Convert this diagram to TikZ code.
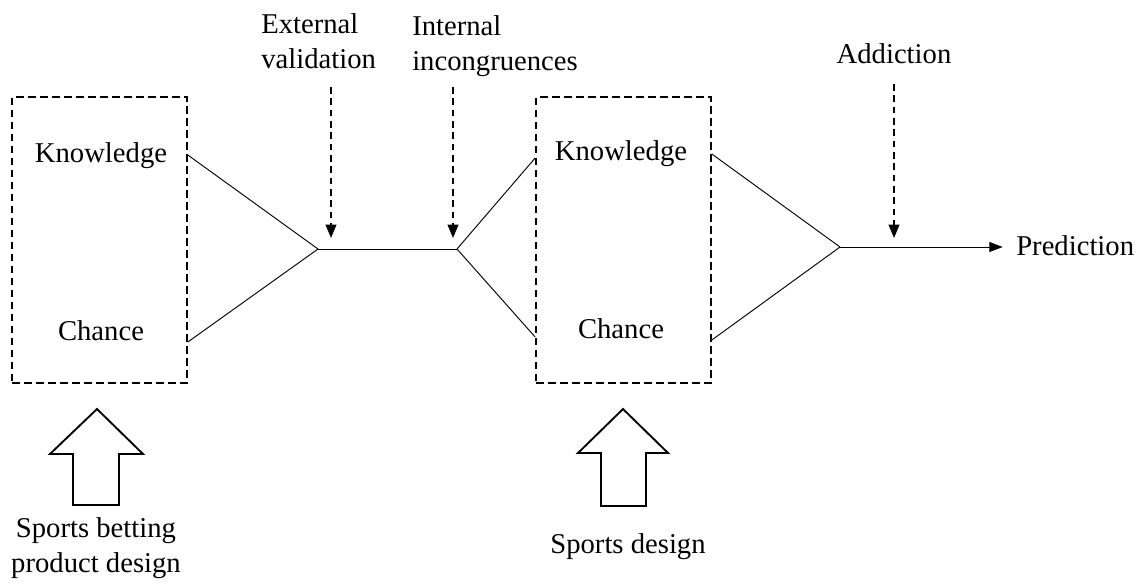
\documentclass[tikz,border=0pt]{standalone}
\usepackage{fontspec}
\setmainfont{Liberation Serif}
\usetikzlibrary{arrows.meta}

\begin{document}
\begin{tikzpicture}[x=0.75pt,y=-0.75pt,
	lbl/.style={font=\fontsize{21.5}{26}\selectfont, inner sep=0pt},
	dbox/.style={draw, dashed, line width=1.5pt, dash pattern=on 5.5pt off 3.5pt, minimum width=131pt, minimum height=214.5pt, inner sep=0pt},
	link/.style={line width=0.7pt},
	dasharrow/.style={line width=1.3pt, dash pattern=on 5pt off 3.5pt, -{Triangle[length=10pt,width=8pt]}},
	blockarrow/.style={line width=1.4pt}]
	\useasboundingbox (0,0) rectangle (1145,583);

	% first box
	\node[dbox] (box1) at (99.5,240) {};
	\node[lbl, anchor=base] (know1) at (101,162) {Knowledge};
	\node[lbl, anchor=base] (chance1) at (101,340) {Chance};

	% second box
	\node[dbox] (box2) at (623.5,240) {};
	\node[lbl, anchor=base] (know2) at (621,160) {Knowledge};
	\node[lbl, anchor=base] (chance2) at (621,338) {Chance};

	% junctions
	\coordinate (j1) at (318,249);
	\coordinate (j2) at (457,249);
	\coordinate (j3) at (840,247);

	\draw[link] (box1.east |- 0,155) -- (j1);
	\draw[link] (box1.east |- 0,342) -- (j1);
	\draw[link] (j1) -- (j2);
	\draw[link] (j2) -- (box2.west |- 0,158);
	\draw[link] (j2) -- (box2.west |- 0,337);
	\draw[link] (box2.east |- 0,154) -- (j3);
	\draw[link] (box2.east |- 0,340) -- (j3);

	\node[lbl, anchor=base west] (pred) at (1016,255) {Prediction};
	\draw[link, -{Triangle[length=10pt,width=7.5pt]}] (j3) -- ([xshift=-10pt]pred.west |- j3);

	% influences from above
	\node[lbl, anchor=base west, align=left] (extval) at (261,68) {External\\validation};
	\node[lbl, anchor=base west, align=left] (intinc) at (412,70) {Internal\\incongruences};
	\node[lbl, anchor=base] (addict) at (894,63) {Addiction};
	\coordinate (e1) at (331,87);
	\coordinate (e2) at (453,87);
	\coordinate (e3) at (894,84);
	\draw[dasharrow] (e1) -- (e1 |- 0,238);
	\draw[dasharrow] (e2) -- (e2 |- 0,238);
	\draw[dasharrow] (e3) -- (e3 |- 0,238);

	% design arrows
	\draw[blockarrow] (97,409) -- (143,454) -- (119,454) -- (119,505) -- (73,505) -- (73,454) -- (50,454) -- cycle;
	\draw[blockarrow] (623,409) -- (668,453) -- (646,453) -- (646,506) -- (601,506) -- (601,453) -- (578,453) -- cycle;
	\node[lbl, anchor=base, align=center] (betdes) at (96,572) {Sports betting\\product design};
	\node[lbl, anchor=base] (sportdes) at (628,553) {Sports design};
\end{tikzpicture}
\end{document}
